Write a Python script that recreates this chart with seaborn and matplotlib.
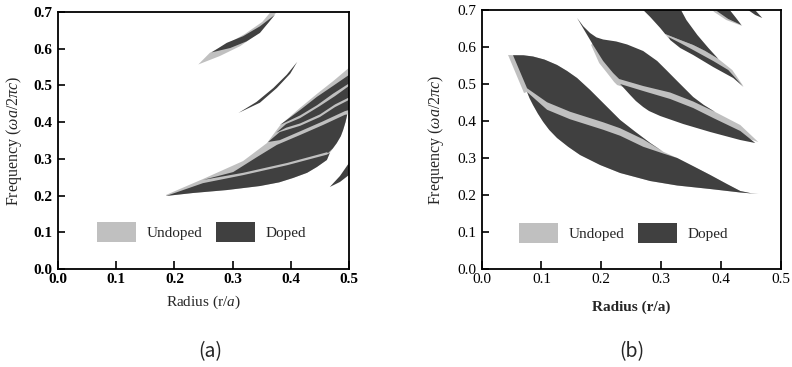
import matplotlib
matplotlib.use("Agg")
import matplotlib.pyplot as plt
from matplotlib.patches import Patch
import seaborn as sns

# Band-gap regions, (radius r/a, frequency wa/2pic) outline points
# panel (a)
a_top_undoped = [(0.241, 0.557), (0.278, 0.580), (0.313, 0.607), (0.341, 0.638), (0.361, 0.670),
                 (0.378, 0.705), (0.368, 0.705), (0.351, 0.673), (0.321, 0.640), (0.287, 0.610),
                 (0.261, 0.589)]
a_top_doped = [(0.264, 0.590), (0.290, 0.616), (0.318, 0.634), (0.347, 0.661), (0.370, 0.689),
               (0.373, 0.693), (0.347, 0.643), (0.324, 0.620), (0.296, 0.602)]
a_thin_doped = [(0.310, 0.425), (0.341, 0.455), (0.370, 0.493), (0.393, 0.529), (0.411, 0.564),
                (0.399, 0.532), (0.376, 0.493), (0.347, 0.453)]
a_fan_undoped = [(0.186, 0.199), (0.232, 0.207), (0.290, 0.215), (0.347, 0.226), (0.380, 0.236),
                 (0.404, 0.248), (0.428, 0.262), (0.445, 0.278), (0.462, 0.297), (0.467, 0.316),
                 (0.479, 0.343), (0.486, 0.362), (0.490, 0.379), (0.494, 0.400), (0.497, 0.420),
                 (0.500, 0.428), (0.500, 0.548), (0.473, 0.512), (0.445, 0.477), (0.416, 0.439),
                 (0.390, 0.403), (0.381, 0.390), (0.359, 0.343), (0.318, 0.294), (0.249, 0.245),
                 (0.186, 0.202)]
a_fan_main = [(0.249, 0.2425), (0.301, 0.264), (0.342, 0.305), (0.376, 0.338), (0.416, 0.365),
              (0.455, 0.392), (0.493, 0.420), (0.497, 0.421), (0.494, 0.400), (0.490, 0.379),
              (0.486, 0.362), (0.479, 0.343), (0.472, 0.328), (0.464, 0.316), (0.462, 0.318),
              (0.394, 0.289), (0.318, 0.262)]
a_fan_low = [(0.186, 0.199), (0.249, 0.2338), (0.318, 0.2556), (0.394, 0.2828), (0.462, 0.3114),
             (0.467, 0.316), (0.462, 0.297), (0.445, 0.278), (0.428, 0.262), (0.404, 0.248),
             (0.380, 0.236), (0.347, 0.226), (0.290, 0.215), (0.232, 0.207)]
a_fan_band2 = [(0.361, 0.346), (0.381, 0.373), (0.416, 0.390), (0.450, 0.414), (0.476, 0.441),
               (0.500, 0.4605), (0.500, 0.433), (0.493, 0.430), (0.455, 0.402), (0.416, 0.375),
               (0.381, 0.351)]
a_fan_band1 = [(0.375, 0.371), (0.392, 0.395), (0.416, 0.411), (0.450, 0.444), (0.476, 0.471),
               (0.500, 0.4986), (0.500, 0.4673), (0.476, 0.4483), (0.450, 0.4210), (0.416, 0.3965),
               (0.392, 0.3849)]
a_fan_band0 = [(0.381, 0.392), (0.416, 0.433), (0.445, 0.469), (0.4725, 0.4986), (0.500, 0.5286),
               (0.500, 0.5054), (0.4725, 0.4774), (0.445, 0.4460), (0.416, 0.4183)]
a_corner_doped = [(0.467, 0.2234), (0.4845, 0.2534), (0.500, 0.2888), (0.500, 0.2561), (0.4845, 0.2371)]

# panel (b)
b_low_top = [(0.0524, 0.5778), (0.0700, 0.5776), (0.0859, 0.5743), (0.1050, 0.5660), (0.1261, 0.5514),
             (0.1430, 0.5350), (0.1596, 0.5162), (0.1814, 0.4838), (0.2032, 0.4486), (0.2317, 0.4027),
             (0.2560, 0.3720), (0.2820, 0.3405), (0.3037, 0.3170)]
b_low_edge = [(0.3271, 0.3000), (0.3550, 0.2770), (0.3824, 0.2541), (0.4100, 0.2300), (0.4327, 0.2108),
              (0.4500, 0.2050), (0.4628, 0.2027), (0.4327, 0.2068), (0.3824, 0.2162), (0.3271, 0.2257),
              (0.2820, 0.2378), (0.2317, 0.2595), (0.1982, 0.2811), (0.1647, 0.3081), (0.1450, 0.3300),
              (0.1261, 0.3541), (0.1130, 0.3760), (0.1027, 0.3981), (0.0940, 0.4200), (0.0859, 0.4432),
              (0.0800, 0.4620)]
b_low_undoped = [(0.0441, 0.5784)] + b_low_top + b_low_edge + [(0.0759, 0.4784), (0.0708, 0.4757)]
b_low_upper = b_low_top + [(0.2702, 0.3507), (0.2317, 0.3804), (0.2032, 0.3966), (0.1479, 0.4250),
                           (0.1094, 0.4507), (0.0759, 0.4885)]
b_low_lower = [(0.0759, 0.4784), (0.1094, 0.4304), (0.1479, 0.4047), (0.2032, 0.3764), (0.2317, 0.3601),
               (0.2702, 0.3304), (0.3037, 0.3122)] + b_low_edge
b_mid_undoped = [(0.1831, 0.6054), (0.1965, 0.5568), (0.2099, 0.5297), (0.2216, 0.5054), (0.2266, 0.4973),
                 (0.2402, 0.4900), (0.2702, 0.4600), (0.3154, 0.4300), (0.3824, 0.3900), (0.4327, 0.3600),
                 (0.4628, 0.3432), (0.4327, 0.3892), (0.3908, 0.4243), (0.3539, 0.4595), (0.3154, 0.4838),
                 (0.2702, 0.5000), (0.2317, 0.5243), (0.2065, 0.5784), (0.1898, 0.6189)]
b_mid_upper = [(0.1596, 0.6784), (0.1700, 0.6560), (0.1814, 0.6378), (0.1920, 0.6260), (0.2032, 0.6203),
               (0.2250, 0.6150), (0.2434, 0.6068), (0.2702, 0.5892), (0.2937, 0.5622), (0.3100, 0.5360),
               (0.3271, 0.5081), (0.3539, 0.4649), (0.3720, 0.4430), (0.3908, 0.4243), (0.3539, 0.4527),
               (0.3154, 0.4770), (0.2702, 0.4946), (0.2300, 0.5135), (0.2199, 0.5297), (0.2032, 0.5622),
               (0.1864, 0.6054)]
b_mid_lower = [(0.2317, 0.5000), (0.2702, 0.4811), (0.3154, 0.4595), (0.3539, 0.4351), (0.3874, 0.4081),
               (0.4327, 0.3730), (0.4578, 0.3405), (0.4327, 0.3486), (0.3824, 0.3703), (0.3372, 0.3919),
               (0.2987, 0.4135), (0.2800, 0.4270), (0.2702, 0.4378), (0.2580, 0.4540), (0.2484, 0.4703)]
b_high_undoped = [(0.3070, 0.6351), (0.3322, 0.6189), (0.3539, 0.6054), (0.3740, 0.5892), (0.3961, 0.5676),
                  (0.4193, 0.5378), (0.4377, 0.4946), (0.4126, 0.5300), (0.3874, 0.5550), (0.3539, 0.5850),
                  (0.3322, 0.6040), (0.3124, 0.6240)]
b_high_upper = [(0.2652, 0.7081), (0.3308, 0.7081), (0.3425, 0.6730), (0.3609, 0.6324), (0.3794, 0.5973),
                (0.3961, 0.5676), (0.3740, 0.5892), (0.3539, 0.6054), (0.3322, 0.6189), (0.3070, 0.6351),
                (0.2987, 0.6514), (0.2820, 0.6811)]
b_high_lower = [(0.3124, 0.6270), (0.3322, 0.6108), (0.3539, 0.5919), (0.3874, 0.5622), (0.4126, 0.5378),
                (0.4382, 0.4919), (0.4209, 0.5162), (0.3874, 0.5459), (0.3539, 0.5784), (0.3322, 0.5973),
                (0.3154, 0.6189)]
b_tip1_undoped = [(0.3811, 0.7081), (0.4109, 0.7081), (0.4360, 0.6568), (0.4092, 0.6730), (0.3891, 0.6946)]
b_tip1_doped = [(0.3844, 0.7081), (0.4109, 0.7081), (0.4243, 0.6811), (0.4344, 0.6595), (0.4126, 0.6757),
                (0.3958, 0.6946)]
b_tip2_doped = [(0.4410, 0.7081), (0.4528, 0.7081), (0.4695, 0.6784), (0.4578, 0.6865), (0.4459, 0.7000)]

ticks_r = [0.0, 0.1, 0.2, 0.3, 0.4, 0.5]
ticks_f = [0.0, 0.1, 0.2, 0.3, 0.4, 0.5, 0.6, 0.7]
legend_labels = ["Undoped", "Doped"]

undoped_color = "#c0c0c0"
doped_color = "#404040"

sns.set_style("ticks")
plt.rcParams["font.family"] = ["Liberation Serif", "DejaVu Serif"]
plt.rcParams["mathtext.fontset"] = "custom"
plt.rcParams["mathtext.rm"] = "Liberation Serif"
plt.rcParams["mathtext.it"] = "Liberation Serif:italic"
plt.rcParams["mathtext.bf"] = "Liberation Serif:bold"


def draw_regions(ax, regions, color):
    for pts in regions:
        r, f = zip(*pts)
        ax.fill(r, f, color=color, lw=0)


def style_axis(ax, weight):
    ax.set_xlim(0, 0.5)
    ax.set_ylim(0, 0.7)
    ax.set_xticks(ticks_r, labels=[f"{t:.1f}" for t in ticks_r], fontsize=11, fontweight=weight)
    ax.set_yticks(ticks_f, labels=[f"{t:.1f}" for t in ticks_f], fontsize=11, fontweight=weight)
    ax.tick_params(direction="in", width=1.2, color="black", labelcolor="black")
    ax.tick_params(axis="x", length=6, pad=3)
    ax.tick_params(axis="y", length=5, pad=4)
    for s in ax.spines.values():
        s.set_linewidth(1.3)
        s.set_color("black")
    ax.set_ylabel(r"Frequency ($\omega a/2\pi c$)", fontsize=11.5)
    ax.yaxis.set_label_coords(-0.118, 0.5)


def add_legend(ax, x, y):
    handles = [Patch(facecolor=undoped_color, edgecolor="none", label=legend_labels[0]),
               Patch(facecolor=doped_color, edgecolor="none", label=legend_labels[1])]
    ax.legend(handles=handles, ncol=2, loc="center left", bbox_to_anchor=(x, y), frameon=False,
              fontsize=11, handlelength=2.55, handleheight=1.6, handletextpad=0.7,
              columnspacing=0.9, borderpad=0, borderaxespad=0)


fig = plt.figure(figsize=(7.92, 3.67), dpi=100)
ax_a = fig.add_axes([58 / 792, 98 / 367, 291 / 792, 257 / 367])
ax_b = fig.add_axes([481.7 / 792, 98 / 367, 298.8 / 792, 259 / 367])

# (a)
draw_regions(ax_a, [a_top_undoped, a_fan_undoped], undoped_color)
draw_regions(ax_a, [a_top_doped, a_thin_doped, a_fan_main, a_fan_low,
                    a_fan_band2, a_fan_band1, a_fan_band0, a_corner_doped], doped_color)
style_axis(ax_a, "bold")
ax_a.set_xlabel(r"Radius (r/$a$)", fontsize=11)
ax_a.xaxis.set_label_coords(0.5, -0.097)
add_legend(ax_a, 0.133, 0.144)

# (b)
draw_regions(ax_b, [b_low_undoped, b_mid_undoped, b_high_undoped, b_tip1_undoped], undoped_color)
draw_regions(ax_b, [b_low_upper, b_low_lower, b_mid_upper, b_mid_lower,
                    b_high_upper, b_high_lower, b_tip1_doped, b_tip2_doped], doped_color)
style_axis(ax_b, "normal")
ax_b.set_xlabel("Radius (r/a)", fontsize=11, fontweight="bold")
ax_b.xaxis.set_label_coords(0.5, -0.12)
add_legend(ax_b, 0.125, 0.140)

cap_fonts = ["Noto Sans CJK KR", "DejaVu Sans"]
fig.text(210 / 792, 1 - 352 / 367, "(a)", ha="center", va="center", fontsize=14, family=cap_fonts)
fig.text(632 / 792, 1 - 352 / 367, "(b)", ha="center", va="center", fontsize=14, family=cap_fonts)

fig.savefig("out.png", dpi=100)
